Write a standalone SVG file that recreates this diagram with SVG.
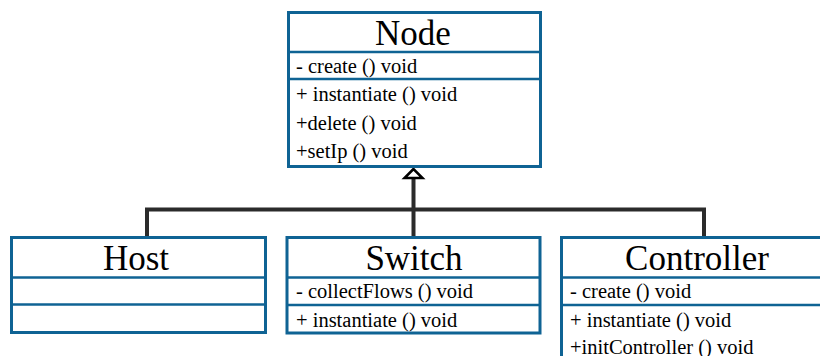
<svg xmlns="http://www.w3.org/2000/svg" width="820" height="356" viewBox="0 0 820 356">
<style>
.box{fill:#fff;stroke:#0f6394;stroke-width:3}
.div{stroke:#0f6394;stroke-width:2.5}
.title{font-family:"Liberation Serif",serif;font-size:35px;fill:#000;text-anchor:middle}
.mem{font-family:"Liberation Serif",serif;font-size:20.5px;fill:#000}
.conn{fill:none;stroke:#2b2b2b;stroke-width:4}
</style>
<g id="connectors">
<polyline class="conn" points="147,237 147,209.5 704,209.5 704,237"/>
<line class="conn" x1="413.5" y1="237" x2="413.5" y2="177"/>
<polygon points="413.5,169 404.5,178 422.5,178" fill="#fff" stroke="#000" stroke-width="2.5"/>
</g>
<g id="node-Node">
<rect class="box" x="288.5" y="12.5" width="252" height="154"/>
<line class="div" x1="288.5" y1="52" x2="540.5" y2="52"/>
<line class="div" x1="288.5" y1="79" x2="540.5" y2="79"/>
<text class="title" x="413" y="45">Node</text>
<text class="mem" x="296" y="73">- create () void</text>
<text class="mem" x="296" y="101">+ instantiate () void</text>
<text class="mem" x="296" y="129.5">+delete () void</text>
<text class="mem" x="296" y="158">+setIp () void</text>
</g>
<g id="node-Host">
<rect class="box" x="11.5" y="237.5" width="254" height="95"/>
<line class="div" x1="11.5" y1="277.5" x2="265.5" y2="277.5"/>
<line class="div" x1="11.5" y1="304.5" x2="265.5" y2="304.5"/>
<text class="title" x="136" y="270">Host</text>
</g>
<g id="node-Switch">
<rect class="box" x="287" y="237.5" width="253" height="95.5"/>
<line class="div" x1="287" y1="277.5" x2="540" y2="277.5"/>
<line class="div" x1="287" y1="305" x2="540" y2="305"/>
<text class="title" x="414" y="270">Switch</text>
<text class="mem" x="296" y="298">- collectFlows () void</text>
<text class="mem" x="296" y="327">+ instantiate () void</text>
</g>
<g id="node-Controller">
<rect class="box" x="561.5" y="237.5" width="272" height="140"/>
<line class="div" x1="561.5" y1="277.5" x2="833.5" y2="277.5"/>
<line class="div" x1="561.5" y1="305" x2="833.5" y2="305"/>
<text class="title" x="697" y="270">Controller</text>
<text class="mem" x="570" y="298">- create () void</text>
<text class="mem" x="570" y="327">+ instantiate () void</text>
<text class="mem" x="570" y="354">+initController () void</text>
</g>
</svg>
